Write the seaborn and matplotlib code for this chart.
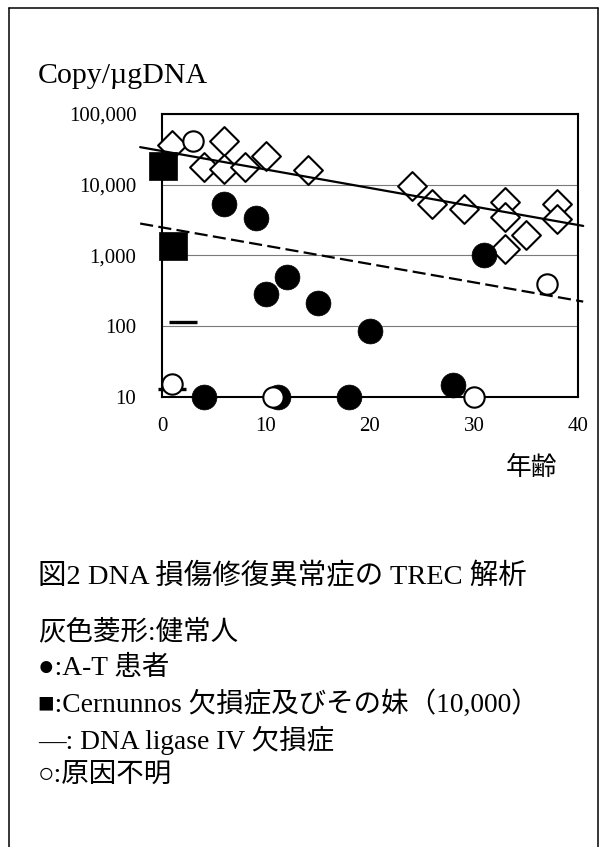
import matplotlib
matplotlib.use("Agg")
import matplotlib.pyplot as plt
import seaborn as sns
from matplotlib.lines import Line2D
from matplotlib.ticker import FixedLocator, FuncFormatter, NullLocator

# --- data -----------------------------------------------------------------
# healthy controls (open diamonds)
healthy_age = [1, 4, 6, 6, 8, 10, 14, 24, 26, 29, 33, 33, 33, 35, 38, 38]
healthy_copy = [36000, 17800, 41000, 16800, 17800, 25300, 16000,
                9700, 5400, 4500, 5700, 3500, 1230, 1930, 5400, 3300]

# A-T patients (filled circles)
at_age = [4, 6, 9, 10, 11.2, 12, 15, 18, 20, 28, 31]
at_copy = [10, 5400, 3400, 290, 10, 500, 216, 10, 87, 15, 1030]

# Cernunnos deficiency and sister (filled squares)
cern_age = [0.1, 1.1]
cern_copy = [18600, 1380]

# DNA ligase IV deficiency (short bars)
lig4_age = [2.0, 1.0]
lig4_copy = [115, 13]

# unknown cause (open circles)
unk_age = [1, 3, 10.7, 30, 37]
unk_copy = [15.5, 41000, 10, 10, 400]

# age trend of healthy controls and its lower limit
trend_age = [-2.1, 40.5]
trend_upper = [34000, 2620]
trend_lower = [2830, 223]

x_ticks = [0, 10, 20, 30, 40]
y_ticks = [10, 100, 1000, 10000, 100000]

y_title = "Copy/µgDNA"
x_title = "年齢"
caption = "図2 DNA 損傷修復異常症の TREC 解析"
legend_lines = [
    "灰色菱形:健常人",
    "●:A-T 患者",
    "■:Cernunnos 欠損症及びその妹（10,000）",
    "—: DNA ligase IV 欠損症",
    "○:原因不明",
]

# --- style ----------------------------------------------------------------
sns.set_theme(style="white")
plt.rcParams["font.family"] = ["Liberation Serif", "Noto Sans CJK JP"]
plt.rcParams["axes.unicode_minus"] = False

W, H = 606, 847
fig = plt.figure(figsize=(W / 100, H / 100), dpi=100)
fig.patch.set_facecolor("white")

ax_l, ax_r, ax_t, ax_b = 162, 578, 114, 397
ax = fig.add_axes([ax_l / W, 1 - ax_b / H, (ax_r - ax_l) / W, (ax_b - ax_t) / H])
ax.set_facecolor("white")

# trend lines
sns.lineplot(x=trend_age, y=trend_upper, ax=ax, color="black", linewidth=1.6,
             clip_on=False, zorder=4)
sns.lineplot(x=trend_age, y=trend_lower, ax=ax, color="black", linewidth=1.6,
             clip_on=False, zorder=4)
ax.lines[-1].set_dashes([5.9, 2.4])

# markers
sns.scatterplot(x=healthy_age, y=healthy_copy, ax=ax, marker="D", s=215,
                color="white", edgecolor="black", linewidth=1.5,
                clip_on=False, zorder=3)
sns.scatterplot(x=at_age, y=at_copy, ax=ax, marker="o", s=320,
                color="black", edgecolor="black", linewidth=0.5,
                clip_on=False, zorder=5)
sns.scatterplot(x=cern_age, y=cern_copy, ax=ax, marker="s", s=400,
                color="black", edgecolor="black", linewidth=0.5,
                clip_on=False, zorder=5)
sns.scatterplot(x=lig4_age, y=lig4_copy, ax=ax, marker="_", s=430,
                color="black", edgecolor="black", linewidth=2.4,
                clip_on=False, zorder=5)
sns.scatterplot(x=unk_age, y=unk_copy, ax=ax, marker="o", s=215,
                color="white", edgecolor="black", linewidth=1.5,
                clip_on=False, zorder=6)

# axes
ax.set_yscale("log")
ax.set_xlim(0, 40)
ax.set_ylim(10, 100000)
ax.xaxis.set_major_locator(FixedLocator(x_ticks))
ax.yaxis.set_major_locator(FixedLocator(y_ticks))
ax.yaxis.set_minor_locator(NullLocator())
ax.yaxis.set_major_formatter(FuncFormatter(lambda v, p: f"{int(round(v)):,}"))
ax.set_xlabel("")
ax.set_ylabel("")
ax.tick_params(axis="both", length=0, labelsize=15, colors="black")
ax.tick_params(axis="y", pad=18.5)
ax.tick_params(axis="x", pad=14.5)
ax.yaxis.grid(True, color="#7a7a7a", linewidth=0.8)
ax.xaxis.grid(False)
ax.set_axisbelow(True)
for side in ["left", "right", "top", "bottom"]:
    ax.spines[side].set_visible(True)
    ax.spines[side].set_color("black")
    ax.spines[side].set_linewidth(1.5)

# texts around the plot
fig.text(38 / W, 1 - 83 / H, y_title, fontsize=21.5, va="baseline", ha="left",
         color="black")
fig.text(557 / W, 1 - 468 / H, x_title, fontsize=18.5, va="center", ha="right",
         color="black")
fig.text(38 / W, 1 - 577 / H, caption, fontsize=20.5, va="center", ha="left",
         color="black")
for i, line in enumerate(legend_lines):
    y = 632 + 36 * i
    fig.text(38 / W, 1 - y / H, line, fontsize=19.8, va="center", ha="left",
             color="black")

# frame around the panel
lw = 1.1
fig.add_artist(Line2D([9 / W, 9 / W], [0, 1 - 8 / H], transform=fig.transFigure,
                      color="black", linewidth=lw))
fig.add_artist(Line2D([598 / W, 598 / W], [0, 1 - 8 / H], transform=fig.transFigure,
                      color="black", linewidth=lw))
fig.add_artist(Line2D([9 / W, 598 / W], [1 - 8 / H, 1 - 8 / H],
                      transform=fig.transFigure, color="black", linewidth=lw))

fig.savefig("out.png", dpi=100, facecolor="white")
